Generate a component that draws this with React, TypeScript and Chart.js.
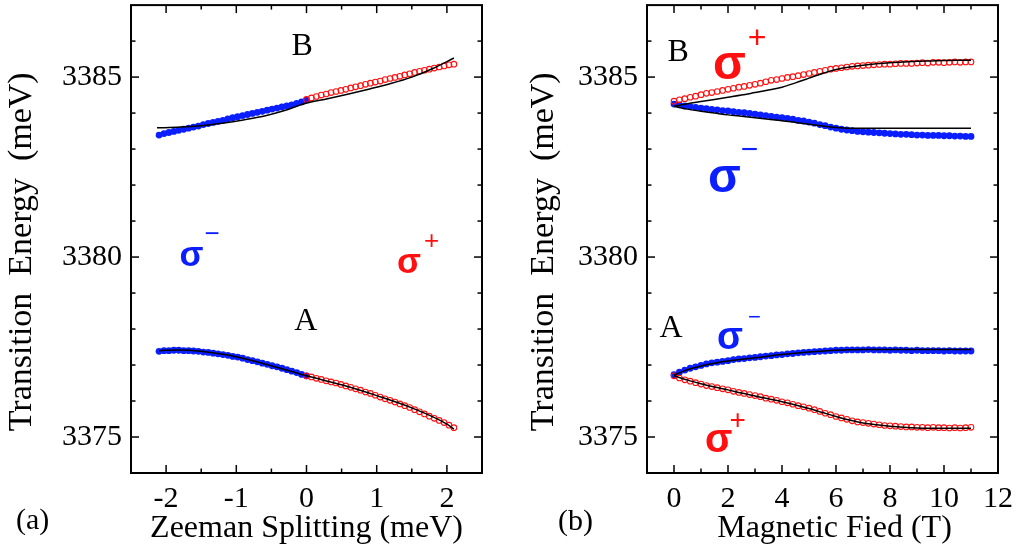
import React, { useEffect, useRef } from 'react';
import { Chart, registerables } from 'chart.js';

Chart.register(...registerables);

// ---------------- Panel (a): Zeeman splitting ----------------
const zeemanNeg = [-2.10, -2.03, -1.96, -1.89, -1.82, -1.75, -1.68, -1.61, -1.54, -1.47, -1.40, -1.33, -1.26, -1.19, -1.12, -1.05, -0.98, -0.91, -0.84, -0.77, -0.70, -0.63, -0.56, -0.49, -0.42, -0.35, -0.28, -0.21, -0.14, -0.07, 0.00];
const zeemanPos = [0.00, 0.07, 0.14, 0.21, 0.28, 0.35, 0.42, 0.49, 0.56, 0.63, 0.70, 0.77, 0.84, 0.91, 0.98, 1.05, 1.12, 1.19, 1.26, 1.33, 1.40, 1.47, 1.54, 1.61, 1.68, 1.75, 1.82, 1.89, 1.96, 2.03, 2.10];

const aUpperMinus = [3383.39, 3383.43, 3383.46, 3383.49, 3383.52, 3383.55, 3383.58, 3383.61, 3383.64, 3383.68, 3383.71, 3383.74, 3383.77, 3383.80, 3383.84, 3383.87, 3383.90, 3383.93, 3383.96, 3383.99, 3384.02, 3384.05, 3384.08, 3384.11, 3384.14, 3384.17, 3384.20, 3384.23, 3384.27, 3384.31, 3384.36];
const aUpperPlus = [3384.38, 3384.42, 3384.46, 3384.50, 3384.53, 3384.57, 3384.60, 3384.63, 3384.66, 3384.70, 3384.73, 3384.76, 3384.80, 3384.83, 3384.86, 3384.89, 3384.93, 3384.96, 3384.99, 3385.02, 3385.06, 3385.09, 3385.13, 3385.16, 3385.19, 3385.22, 3385.25, 3385.28, 3385.31, 3385.34, 3385.36];
const aLowerMinus = [3377.38, 3377.40, 3377.40, 3377.41, 3377.41, 3377.40, 3377.40, 3377.39, 3377.38, 3377.36, 3377.35, 3377.33, 3377.31, 3377.29, 3377.27, 3377.24, 3377.22, 3377.19, 3377.15, 3377.12, 3377.09, 3377.05, 3377.02, 3376.98, 3376.95, 3376.91, 3376.87, 3376.83, 3376.79, 3376.74, 3376.70];
const aLowerPlus = [3376.70, 3376.67, 3376.63, 3376.60, 3376.56, 3376.53, 3376.50, 3376.46, 3376.42, 3376.38, 3376.34, 3376.30, 3376.25, 3376.21, 3376.16, 3376.11, 3376.06, 3376.02, 3375.97, 3375.92, 3375.87, 3375.82, 3375.76, 3375.70, 3375.64, 3375.58, 3375.52, 3375.46, 3375.40, 3375.33, 3375.26];

const aFitUpperX = [-2.13, -1.8, -1.5, -1.2, -0.9, -0.6, -0.3, 0, 0.3, 0.6, 0.9, 1.2, 1.5, 1.8, 2.1];
const aFitUpperY = [3383.59, 3383.61, 3383.65, 3383.72, 3383.81, 3383.92, 3384.08, 3384.28, 3384.40, 3384.53, 3384.67, 3384.82, 3385.00, 3385.24, 3385.53];
const aFitLowerX = [-2.1, -1.8, -1.5, -1.0, -0.5, 0, 0.5, 1.0, 1.5, 2.0, 2.1];
const aFitLowerY = [3377.40, 3377.42, 3377.38, 3377.23, 3376.98, 3376.70, 3376.45, 3376.15, 3375.81, 3375.36, 3375.22];

// ---------------- Panel (b): magnetic field ----------------
const field = [0.0, 0.2, 0.4, 0.6, 0.8, 1.0, 1.2, 1.4, 1.6, 1.8, 2.0, 2.2, 2.4, 2.6, 2.8, 3.0, 3.2, 3.4, 3.6, 3.8, 4.0, 4.2, 4.4, 4.6, 4.8, 5.0, 5.2, 5.4, 5.6, 5.8, 6.0, 6.2, 6.4, 6.6, 6.8, 7.0, 7.2, 7.4, 7.6, 7.8, 8.0, 8.2, 8.4, 8.6, 8.8, 9.0, 9.2, 9.4, 9.6, 9.8, 10.0, 10.2, 10.4, 10.6, 10.8, 11.0];

const bUpperPlus = [3384.33, 3384.37, 3384.40, 3384.44, 3384.47, 3384.51, 3384.55, 3384.57, 3384.60, 3384.63, 3384.66, 3384.69, 3384.72, 3384.74, 3384.77, 3384.80, 3384.83, 3384.87, 3384.91, 3384.93, 3384.96, 3384.99, 3385.01, 3385.04, 3385.07, 3385.10, 3385.13, 3385.16, 3385.19, 3385.22, 3385.24, 3385.26, 3385.28, 3385.30, 3385.31, 3385.32, 3385.33, 3385.34, 3385.35, 3385.36, 3385.36, 3385.37, 3385.38, 3385.38, 3385.38, 3385.39, 3385.40, 3385.39, 3385.41, 3385.41, 3385.40, 3385.41, 3385.42, 3385.41, 3385.42, 3385.42];
const bUpperMinus = [3384.25, 3384.23, 3384.20, 3384.18, 3384.16, 3384.14, 3384.12, 3384.10, 3384.09, 3384.07, 3384.06, 3384.04, 3384.02, 3384.01, 3383.99, 3383.97, 3383.95, 3383.93, 3383.91, 3383.89, 3383.87, 3383.85, 3383.83, 3383.80, 3383.78, 3383.75, 3383.72, 3383.68, 3383.65, 3383.61, 3383.58, 3383.55, 3383.53, 3383.51, 3383.49, 3383.48, 3383.47, 3383.46, 3383.45, 3383.44, 3383.43, 3383.42, 3383.41, 3383.41, 3383.40, 3383.39, 3383.39, 3383.38, 3383.38, 3383.38, 3383.37, 3383.37, 3383.36, 3383.36, 3383.35, 3383.35];
const bLowerMinus = [3376.73, 3376.80, 3376.86, 3376.91, 3376.95, 3376.99, 3377.03, 3377.06, 3377.08, 3377.10, 3377.12, 3377.15, 3377.17, 3377.18, 3377.20, 3377.21, 3377.23, 3377.25, 3377.26, 3377.28, 3377.29, 3377.31, 3377.32, 3377.34, 3377.35, 3377.36, 3377.37, 3377.38, 3377.39, 3377.40, 3377.41, 3377.41, 3377.42, 3377.42, 3377.42, 3377.42, 3377.43, 3377.42, 3377.42, 3377.42, 3377.41, 3377.42, 3377.41, 3377.41, 3377.40, 3377.41, 3377.40, 3377.40, 3377.40, 3377.40, 3377.39, 3377.40, 3377.39, 3377.39, 3377.39, 3377.39];
const bLowerPlus = [3376.70, 3376.64, 3376.59, 3376.55, 3376.51, 3376.47, 3376.43, 3376.40, 3376.37, 3376.34, 3376.31, 3376.27, 3376.24, 3376.21, 3376.18, 3376.15, 3376.12, 3376.08, 3376.05, 3376.02, 3375.98, 3375.95, 3375.91, 3375.87, 3375.84, 3375.80, 3375.76, 3375.71, 3375.66, 3375.62, 3375.57, 3375.53, 3375.49, 3375.45, 3375.42, 3375.40, 3375.38, 3375.36, 3375.34, 3375.32, 3375.31, 3375.30, 3375.29, 3375.28, 3375.28, 3375.27, 3375.27, 3375.26, 3375.27, 3375.26, 3375.26, 3375.25, 3375.26, 3375.25, 3375.26, 3375.27];

const bFitUpperPlusX = [0, 0.5, 1, 1.5, 2, 2.5, 3, 3.5, 4, 4.5, 5, 5.5, 6, 6.5, 7, 7.5, 8, 8.5, 9, 9.5, 10, 10.5, 11];
const bFitUpperPlusY = [3384.19, 3384.26, 3384.32, 3384.38, 3384.44, 3384.50, 3384.57, 3384.64, 3384.72, 3384.84, 3384.97, 3385.10, 3385.21, 3385.28, 3385.33, 3385.37, 3385.40, 3385.42, 3385.44, 3385.45, 3385.46, 3385.47, 3385.47];
const bFitUpperMinusX = [0, 0.5, 1, 1.5, 2, 2.5, 3, 3.5, 4, 4.5, 5, 5.5, 6, 6.5, 7, 8, 9, 10, 11];
const bFitUpperMinusY = [3384.19, 3384.11, 3384.05, 3384.00, 3383.95, 3383.91, 3383.87, 3383.83, 3383.79, 3383.74, 3383.69, 3383.64, 3383.60, 3383.58, 3383.58, 3383.58, 3383.58, 3383.58, 3383.58];
const bFitLowerMinusX = [0, 0.5, 1, 1.5, 2, 3, 4, 5, 6, 7, 8, 9, 10, 11];
const bFitLowerMinusY = [3376.72, 3376.87, 3376.97, 3377.05, 3377.11, 3377.20, 3377.29, 3377.36, 3377.41, 3377.43, 3377.43, 3377.43, 3377.43, 3377.43];
const bFitLowerPlusX = [0, 0.5, 1, 1.5, 2, 2.5, 3, 3.5, 4, 4.5, 5, 5.5, 6, 6.5, 7, 7.5, 8, 8.5, 9, 10, 11];
const bFitLowerPlusY = [3376.70, 3376.58, 3376.48, 3376.39, 3376.31, 3376.22, 3376.14, 3376.06, 3375.98, 3375.89, 3375.79, 3375.68, 3375.57, 3375.47, 3375.39, 3375.34, 3375.30, 3375.27, 3375.25, 3375.24, 3375.24];

// ---------------- Axis ticks ----------------
const energyMajor = [3375, 3380, 3385];
const energyMinor = [3376, 3377, 3378, 3379, 3381, 3382, 3383, 3384, 3386];
const zeemanMajor = [-2, -1, 0, 1, 2];
const zeemanMinor = [-1.5, -0.5, 0.5, 1.5];
const fieldMajor = [0, 2, 4, 6, 8, 10, 12];
const fieldMinor = [1, 3, 5, 7, 9, 11];

const SERIF = '"Liberation Serif", "Times New Roman", Times, serif';
const SANS = '"Liberation Sans", Arial, Helvetica, sans-serif';
const BLUE = '#0a1eff';
const RED = '#ff1010';

const pts = (xs: number[], ys: number[]) => xs.map((x, i) => ({ x, y: ys[i] }));

const fitDs = (xs: number[], ys: number[]) => ({
  data: pts(xs, ys),
  showLine: true,
  borderColor: '#000',
  borderWidth: 1.5,
  pointRadius: 0,
  cubicInterpolationMode: 'monotone',
  fill: false,
});
const blueDs = (xs: number[], ys: number[]) => ({
  data: pts(xs, ys),
  showLine: false,
  pointRadius: 3.4,
  pointBackgroundColor: BLUE,
  pointBorderColor: BLUE,
  pointBorderWidth: 0,
});
const redDs = (xs: number[], ys: number[]) => ({
  data: pts(xs, ys),
  showLine: false,
  pointRadius: 2.8,
  pointBackgroundColor: 'rgba(255,255,255,0)',
  pointBorderColor: RED,
  pointBorderWidth: 1.1,
});

type Sigma = { x: number; y: number; sign: string; size: number; supSize: number; gap: number; dy: number; color: string };
type Letter = { text: string; x: number; y: number };

interface PanelCfg {
  xMin: number; xMax: number; xMajor: number[]; xMinor: number[];
  xTitle: string; yAxisWidth: number; padRight: number; yTitlePad: number;
  tag: string; tagX: number; tagY: number;
  letters: Letter[]; sigmas: Sigma[];
  datasets: any[];
}

const leftCfg: PanelCfg = {
  xMin: -2.5, xMax: 2.5, xMajor: zeemanMajor, xMinor: zeemanMinor,
  xTitle: 'Zeeman Splitting (meV)', yAxisWidth: 131, padRight: 29, yTitlePad: 2,
  tag: '(a)', tagX: 16, tagY: 521,
  letters: [
    { text: 'B', x: -0.06, y: 3385.85 },
    { text: 'A', x: -0.01, y: 3378.22 },
  ],
  sigmas: [
    { x: -1.81, y: 3379.74, sign: '\u2212', size: 35, supSize: 26, gap: 1, dy: 32, color: BLUE },
    { x: 1.29, y: 3379.55, sign: '+', size: 35, supSize: 26, gap: 3, dy: 31, color: RED },
  ],
  datasets: [
    fitDs(aFitUpperX, aFitUpperY),
    fitDs(aFitLowerX, aFitLowerY),
    redDs(zeemanPos, aUpperPlus),
    redDs(zeemanPos, aLowerPlus),
    blueDs(zeemanNeg, aUpperMinus),
    blueDs(zeemanNeg, aLowerMinus),
  ],
};

const rightCfg: PanelCfg = {
  xMin: -1, xMax: 12, xMajor: fieldMajor, xMinor: fieldMinor,
  xTitle: '\u00a0\u00a0\u00a0Magnetic Fied (T)', yAxisWidth: 136, padRight: 25, yTitlePad: 13,
  tag: '(b)', tagX: 47, tagY: 522,
  letters: [
    { text: 'B', x: 0.15, y: 3385.68 },
    { text: 'A', x: -0.11, y: 3378.0 },
  ],
  sigmas: [
    { x: 1.44, y: 3384.94, sign: '+', size: 48, supSize: 32, gap: 2, dy: 40, color: RED },
    { x: 1.26, y: 3381.82, sign: '\u2212', size: 48, supSize: 30, gap: 0, dy: 41, color: BLUE },
    { x: 1.59, y: 3377.45, sign: '\u2212', size: 38, supSize: 22, gap: 5, dy: 31, color: BLUE },
    { x: 1.15, y: 3374.58, sign: '+', size: 40, supSize: 28, gap: -3, dy: 31, color: RED },
  ],
  datasets: [
    fitDs(bFitUpperPlusX, bFitUpperPlusY),
    fitDs(bFitUpperMinusX, bFitUpperMinusY),
    fitDs(bFitLowerMinusX, bFitLowerMinusY),
    fitDs(bFitLowerPlusX, bFitLowerPlusY),
    redDs(field, bUpperPlus),
    redDs(field, bLowerPlus),
    blueDs(field, bUpperMinus),
    blueDs(field, bLowerMinus),
  ],
};

function makeDecor(cfg: PanelCfg) {
  return {
    id: 'decor',
    afterDraw(chart: any) {
      const { ctx, chartArea: a, scales } = chart;
      const xs = scales.x;
      const ys = scales.y;
      ctx.save();
      ctx.strokeStyle = '#000';
      ctx.lineWidth = 1.5;
      const seg = (x1: number, y1: number, x2: number, y2: number) => {
        ctx.beginPath(); ctx.moveTo(x1, y1); ctx.lineTo(x2, y2); ctx.stroke();
      };
      const xTick = (v: number, len: number) => {
        const p = xs.getPixelForValue(v);
        seg(p, a.bottom, p, a.bottom - len);
        seg(p, a.top, p, a.top + len);
      };
      const yTick = (v: number, len: number) => {
        const p = ys.getPixelForValue(v);
        seg(a.left, p, a.left + len, p);
        seg(a.right, p, a.right - len, p);
      };
      cfg.xMajor.forEach((v) => xTick(v, 8));
      cfg.xMinor.forEach((v) => xTick(v, 4.5));
      energyMajor.forEach((v) => yTick(v, 8));
      energyMinor.forEach((v) => yTick(v, 4.5));
      ctx.lineWidth = 2;
      ctx.strokeRect(a.left, a.top, a.right - a.left, a.bottom - a.top);

      ctx.fillStyle = '#000';
      ctx.font = `32px ${SERIF}`;
      ctx.textAlign = 'center';
      ctx.textBaseline = 'middle';
      cfg.letters.forEach((l) => ctx.fillText(l.text, xs.getPixelForValue(l.x), ys.getPixelForValue(l.y)));

      cfg.sigmas.forEach((s) => {
        const px = xs.getPixelForValue(s.x);
        const py = ys.getPixelForValue(s.y);
        ctx.fillStyle = s.color;
        ctx.font = `bold ${s.size}px ${SANS}`;
        ctx.textAlign = 'left';
        ctx.textBaseline = 'alphabetic';
        ctx.fillText('\u03c3', px, py);
        const w = ctx.measureText('\u03c3').width;
        ctx.font = `${s.supSize}px ${SANS}`;
        ctx.textBaseline = 'middle';
        ctx.fillText(s.sign, px + w + s.gap, py - s.dy);
      });

      ctx.fillStyle = '#000';
      ctx.font = `30px ${SERIF}`;
      ctx.textAlign = 'left';
      ctx.textBaseline = 'middle';
      ctx.fillText(cfg.tag, cfg.tagX, cfg.tagY);
      ctx.restore();
    },
  };
}

function Panel({ cfg, left, width }: { cfg: PanelCfg; left: number; width: number }) {
  const ref = useRef<HTMLCanvasElement>(null);
  useEffect(() => {
    if (!ref.current) return;
    const chart = new Chart(ref.current, {
      type: 'scatter',
      data: { datasets: cfg.datasets },
      options: {
        animation: false,
        responsive: false,
        maintainAspectRatio: false,
        events: [],
        layout: { padding: { left: 0, top: 2, right: cfg.padRight, bottom: 0 } },
        plugins: { legend: { display: false }, tooltip: { enabled: false }, title: { display: false } },
        scales: {
          x: {
            type: 'linear',
            min: cfg.xMin,
            max: cfg.xMax,
            grid: { display: false, drawTicks: false },
            border: { display: false },
            afterBuildTicks: (s: any) => { s.ticks = cfg.xMajor.map((v) => ({ value: v })); },
            afterFit: (s: any) => { s.height = 85; s.paddingLeft = 0; s.paddingRight = 0; },
            ticks: {
              color: '#000',
              font: { family: SERIF, size: 30 },
              padding: 8,
              maxRotation: 0,
              autoSkip: false,
              callback: (v: any) => String(v),
            },
            title: {
              display: true,
              text: cfg.xTitle,
              color: '#000',
              font: { family: SERIF, size: 32 },
              padding: { top: 0, bottom: 10 },
            },
          },
          y: {
            type: 'linear',
            min: 3374,
            max: 3387,
            grid: { display: false, drawTicks: false },
            border: { display: false },
            afterBuildTicks: (s: any) => { s.ticks = energyMajor.map((v) => ({ value: v })); },
            afterFit: (s: any) => { s.width = cfg.yAxisWidth; s.paddingTop = 0; s.paddingBottom = 0; },
            ticks: {
              color: '#000',
              font: { family: SERIF, size: 30 },
              padding: 9,
              autoSkip: false,
              callback: (v: any) => String(v),
            },
            title: {
              display: true,
              text: 'Transition  Energy  (meV)\u00a0\u00a0\u00a0',
              color: '#000',
              font: { family: SERIF, size: 34 },
              padding: { top: cfg.yTitlePad, bottom: 0 },
            },
          },
        },
      } as any,
      plugins: [makeDecor(cfg)],
    });
    return () => chart.destroy();
  }, []);
  return (
    <canvas
      ref={ref}
      width={width}
      height={558}
      style={{ position: 'absolute', left, top: 0, width, height: 558 }}
    />
  );
}

export default function App() {
  return (
    <div style={{ position: 'fixed', left: 0, top: 0, width: 1023, height: 558, background: '#fff' }}>
      <Panel cfg={leftCfg} left={0} width={511} />
      <Panel cfg={rightCfg} left={511} width={512} />
    </div>
  );
}
